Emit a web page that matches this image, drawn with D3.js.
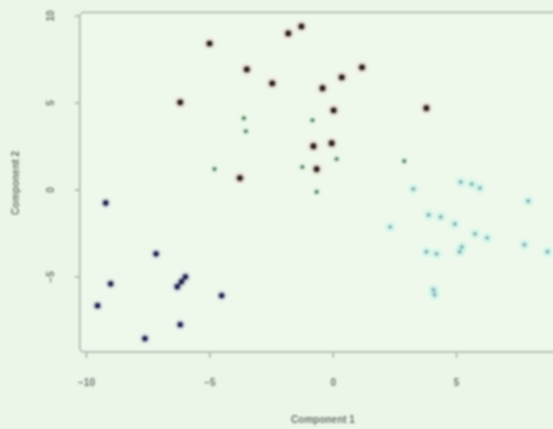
<!DOCTYPE html>
<html>
<head>
<meta charset="utf-8">
<script src="https://cdn.jsdelivr.net/npm/d3@7"></script>
<style>
  body { margin: 0; background: #ebf6e7; }
  svg { display: block; }
  .axis text { font-family: "Liberation Sans", Arial, sans-serif; font-size: 10px; font-weight: bold; fill: #6f756f; }
  .axis path, .axis line { stroke: #a4aaa4; stroke-width: 1.5; }
</style>
</head>
<body>
<div id="chart"></div>
<script>
// point clouds, one pair of arrays per group
var redX   = [-4.99, -1.80, -1.27, -3.48, -2.45, -0.41, 0.37, 1.19, -6.18, 0.04, -0.78, -0.04, -0.65, -3.76, 3.80];
var redY   = [ 8.42,  9.00,  9.40,  6.93,  6.13,  5.85, 6.48, 7.05,  5.04, 4.58,  2.52,  2.69,  1.20,  0.69, 4.70];
var greenX = [-3.60, -3.52, -0.82, -4.79, -1.23, 0.16, -0.65, 2.90];
var greenY = [ 4.13,  3.38,  4.01,  1.20,  1.32, 1.78, -0.11, 1.66];
var cyanX  = [3.27, 5.19, 5.64, 5.97, 7.93, 3.89, 4.38, 4.95, 2.33, 5.77, 6.26, 7.77, 8.71, 3.80, 4.21, 5.15, 5.24, 4.09, 4.13];
var cyanY  = [0.06, 0.46, 0.34, 0.11, -0.63, -1.43, -1.55, -1.95, -2.12, -2.52, -2.75, -3.15, -3.55, -3.55, -3.67, -3.55, -3.27, -5.73, -6.02];
var blueX  = [-9.20, -7.16, -9.00, -9.53, -6.30, -5.97, -6.13, -4.50, -6.18, -7.61];
var blueY  = [-0.74, -3.67, -5.39, -6.65, -5.56, -4.99, -5.27, -6.07, -7.74, -8.54];
var xTicks = [-10, -5, 0, 5];
var yTicks = [-5, 0, 5, 10];

var W = 553, H = 429;

var svg = d3.select("#chart").append("svg")
    .attr("width", W)
    .attr("height", H);

// soft blur, the reference is a fuzzy screen grab
var defs = svg.append("defs");
defs.append("filter").attr("id", "soft")
  .append("feGaussianBlur").attr("stdDeviation", 0.8);

var g = svg.append("g").attr("filter", "url(#soft)");

var x = d3.scaleLinear().domain([-10, 5]).range([86, 456]);
var y = d3.scaleLinear().domain([-5, 10]).range([277, 16]);

// plot frame (right side runs off the page)
g.append("rect")
    .attr("x", x(-10.25))
    .attr("y", y(10.2))
    .attr("width", 600)
    .attr("height", y(-9.3) - y(10.2))
    .attr("rx", 4)
    .attr("fill", "#eef9eb")
    .attr("stroke", "#a4aaa4")
    .attr("stroke-width", 1.5);

var xAxis = g.append("g")
    .attr("class", "axis")
    .attr("transform", "translate(0," + (y(-9.3) + 1) + ")")
    .call(d3.axisBottom(x).tickValues(xTicks).tickSize(5).tickSizeOuter(0).tickPadding(21));
xAxis.select(".domain").remove();

var yAxis = g.append("g")
    .attr("class", "axis")
    .attr("transform", "translate(" + (x(-10.25) - 1) + ",0)")
    .call(d3.axisLeft(y).tickValues(yTicks).tickSize(4).tickSizeOuter(0).tickPadding(0));
yAxis.select(".domain").remove();
yAxis.selectAll("text")
    .attr("transform", function(d){ return "translate(-28," + y(d) + ") rotate(-90)"; })
    .attr("x", 0).attr("y", 0).attr("dy", "0.35em")
    .attr("text-anchor", "middle");
yAxis.selectAll(".tick").attr("transform", null);
yAxis.selectAll(".tick line").attr("transform", function(d){ return "translate(0," + y(d) + ")"; });

g.append("text")
    .attr("x", 323).attr("y", 423)
    .attr("text-anchor", "middle")
    .style("font-family", "Liberation Sans, Arial, sans-serif")
    .style("font-size", "10px").style("font-weight", "bold")
    .attr("fill", "#6f756f")
    .text("Component 1");

g.append("text")
    .attr("transform", "translate(19,183) rotate(-90)")
    .attr("text-anchor", "middle")
    .style("font-family", "Liberation Sans, Arial, sans-serif")
    .style("font-size", "10px").style("font-weight", "bold")
    .attr("fill", "#6f756f")
    .text("Component 2");

function drawGroup(xs, ys, r, fill, halo, haloR) {
  var pts = d3.zip(xs, ys);
  g.selectAll(null)
    .data(pts)
    .enter()
    .append("circle")
      .attr("cx", function(d){ return x(d[0]); })
      .attr("cy", function(d){ return y(d[1]); })
      .attr("r", haloR)
      .attr("fill", halo)
      .attr("opacity", 0.25);
  g.selectAll(null)
    .data(pts)
    .enter()
    .append("circle")
      .attr("cx", function(d){ return x(d[0]); })
      .attr("cy", function(d){ return y(d[1]); })
      .attr("r", r)
      .attr("fill", fill);
}

drawGroup(redX, redY, 3.6, "#342a2c", "#f0c0b0", 6.5);
drawGroup(blueX, blueY, 3.4, "#2c2e5c", "#c8c8f0", 6);
drawGroup(greenX, greenY, 2.3, "#5c8a64", "#c4f0c8", 4.5);
drawGroup(cyanX, cyanY, 2.2, "#8fb2b2", "#90f4f0", 5.5);
</script>
</body>
</html>
